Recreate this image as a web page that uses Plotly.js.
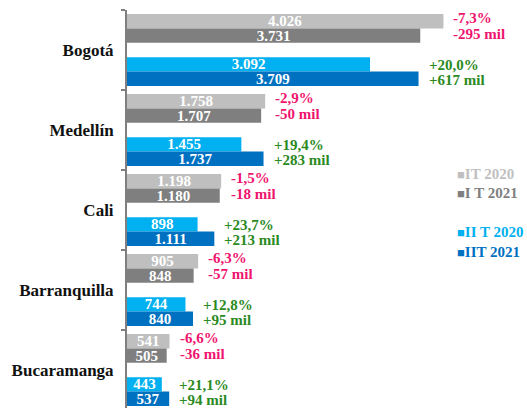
<!DOCTYPE html>
<html>
<head>
<meta charset="utf-8">
<script src="https://cdn.plot.ly/plotly-3.0.1.min.js"></script>
<style>html,body{margin:0;padding:0;background:#fff;}#chart{width:527px;height:408px;}</style>
</head>
<body>
<div id="chart"></div>
<script>
const cities = ['Bogotá', 'Medellín', 'Cali', 'Barranquilla', 'Bucaramanga'];
const it2020 = [4026, 1758, 1198, 905, 541];
const it2021 = [3731, 1707, 1180, 848, 505];
const iit2020 = [3092, 1455, 898, 744, 443];
const iit2021 = [3709, 1737, 1111, 840, 537];
const pctIT = [-7.3, -2.9, -1.5, -6.3, -6.6];
const absIT = [-295, -50, -18, -57, -36];
const pctIIT = [20.0, 19.4, 23.7, 12.8, 21.1];
const absIIT = [617, 283, 213, 95, 94];
const seriesNames = ['IT 2020', 'I T 2021', 'II T 2020', 'IIT 2021'];

const FONT = 'Liberation Serif, DejaVu Serif, serif';
const colors = ['#bfbfbf', '#7f7f7f', '#00b0f0', '#0070c0'];
const offsets = [-0.45, -0.27, 0.09, 0.27];
const W = 0.18;
const RED = '#f0146e', GREEN = '#2a8a1e';

const seriesVals = [it2020, it2021, iit2020, iit2021];
const traces = seriesVals.map((vals, k) => ({
  type: 'bar', orientation: 'h', x: vals, y: cities, name: seriesNames[k],
  offset: offsets[k], width: W,
  marker: {color: colors[k], line: {width: 0}},
  texttemplate: '<b>%{x:,}</b>', textposition: 'inside', insidetextanchor: 'middle',
  constraintext: 'none',
  insidetextfont: {family: FONT, size: 15, color: '#ffffff'},
  hoverinfo: 'x+y', showlegend: false
}));

function fmtPct(v) { return (v > 0 ? '+' : '') + v.toFixed(1).replace('.', ',') + '%'; }
function fmtAbs(v) { return (v > 0 ? '+' : '') + v + ' mil'; }

const annotations = [];
cities.forEach((c, i) => {
  const mIT = Math.max(it2020[i], it2021[i]);
  const mIIT = Math.max(iit2020[i], iit2021[i]);
  const cIT = pctIT[i] < 0 ? RED : GREEN;
  const cIIT = pctIIT[i] < 0 ? RED : GREEN;
  const f = (col) => ({family: FONT, size: 15, color: col});
  annotations.push({x: mIT, y: i + offsets[0] + W / 2, xref: 'x', yref: 'y', text: '<b>' + fmtPct(pctIT[i]) + '</b>', showarrow: false, xanchor: 'left', xshift: 8, yshift: 3, font: f(cIT)});
  annotations.push({x: mIT, y: i + offsets[1] + W / 2, xref: 'x', yref: 'y', text: '<b>' + fmtAbs(absIT[i]) + '</b>', showarrow: false, xanchor: 'left', xshift: 8, yshift: 2, font: f(cIT)});
  annotations.push({x: mIIT, y: i + offsets[2] + W / 2, xref: 'x', yref: 'y', text: '<b>' + fmtPct(pctIIT[i]) + '</b>', showarrow: false, xanchor: 'left', xshift: 8, yshift: -1, font: f(cIIT)});
  annotations.push({x: mIIT, y: i + offsets[3] + W / 2, xref: 'x', yref: 'y', text: '<b>' + fmtAbs(absIIT[i]) + '</b>', showarrow: false, xanchor: 'left', xshift: 8, yshift: -1, font: f(cIIT)});
});

// legend as text
const legY = [1.55, 1.79, 2.275, 2.525];
seriesNames.forEach((n, k) => {
  annotations.push({
    x: 0.835, xref: 'paper', y: legY[k], yref: 'y', xanchor: 'left', showarrow: false,
    text: '<span style="font-size:13px">■</span><b>' + n + '</b>',
    font: {family: FONT, size: 15, color: colors[k]}
  });
});

const layout = {
  width: 527, height: 408,
  margin: {l: 127, r: 7, t: 10, b: 0},
  paper_bgcolor: '#ffffff', plot_bgcolor: '#ffffff',
  separators: ',.',
  barmode: 'overlay',
  showlegend: false,
  font: {family: FONT},
  xaxis: {range: [0, 5000], visible: false, showgrid: false, zeroline: false},
  yaxis: {
    type: 'category', range: [4.475, -0.5],
    showline: true, linecolor: '#7f7f7f', linewidth: 2,
    ticks: 'outside', tickson: 'boundaries', ticklen: 4, tickwidth: 1.5, tickcolor: '#7f7f7f',
    ticklabelstandoff: 8,
    tickfont: {family: FONT, size: 17, color: '#111111', weight: 'bold'},
    showgrid: false, zeroline: false
  },
  annotations: annotations
};

Plotly.newPlot('chart', traces, layout, {displayModeBar: false, staticPlot: true});
</script>
</body>
</html>
